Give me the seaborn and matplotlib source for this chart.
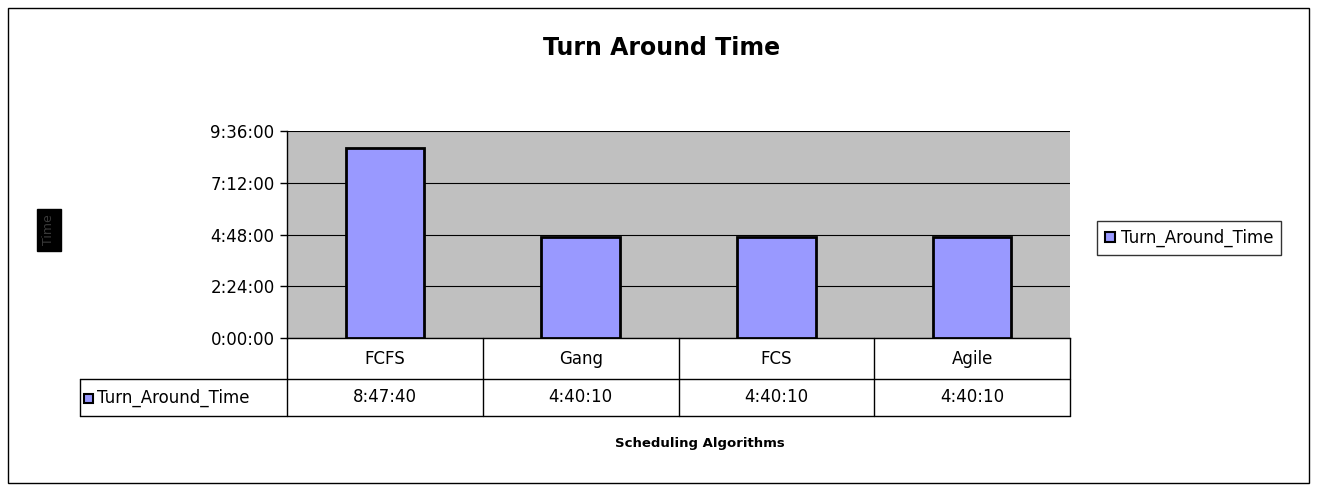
import matplotlib
matplotlib.use("Agg")
import matplotlib.pyplot as plt
import matplotlib.transforms as mtransforms
from matplotlib.patches import Rectangle
from matplotlib.ticker import FuncFormatter, FixedLocator
import seaborn as sns
import pandas as pd

# data (turn around time in seconds)
algorithms = ["FCFS", "Gang", "FCS", "Agile"]
tat_labels = ["8:47:40", "4:40:10", "4:40:10", "4:40:10"]
tat_seconds = [8 * 3600 + 47 * 60 + 40, 4 * 3600 + 40 * 60 + 10,
               4 * 3600 + 40 * 60 + 10, 4 * 3600 + 40 * 60 + 10]
series_name = "Turn_Around_Time"
y_ticks = [0, 8640, 17280, 25920, 34560]

df = pd.DataFrame({"Algorithm": algorithms, "Seconds": tat_seconds})

sns.set_style("white")
plt.rcParams["font.family"] = ["DejaVu Sans"]
plt.rcParams["text.color"] = "black"
plt.rcParams["ytick.color"] = "black"
plt.rcParams["ytick.labelcolor"] = "black"

W, H = 1317, 491
fig = plt.figure(figsize=(W / 100, H / 100), dpi=100)

def fx(px):
    return px / W

def fy(py):
    return (H - py) / H

bar_color = "#9999FF"
ax = fig.add_axes([fx(287), fy(338), fx(1070) - fx(287), fy(131) - fy(338)])
ax.set_facecolor("#C0C0C0")
sns.barplot(data=df, x="Algorithm", y="Seconds", color=bar_color, width=0.4,
            edgecolor="black", linewidth=2, saturation=1, ax=ax, zorder=3)

ax.set_xlim(-0.5, len(algorithms) - 0.5)
ax.set_ylim(0, y_ticks[-1])
ax.yaxis.set_major_locator(FixedLocator(y_ticks))

def hms(v, pos=None):
    v = int(round(v))
    return f"{v // 3600}:{(v % 3600) // 60:02d}:{v % 60:02d}"

ax.yaxis.set_major_formatter(FuncFormatter(hms))
ax.grid(axis="y", color="black", linewidth=0.8, zorder=1)
ax.set_axisbelow(True)
ax.tick_params(axis="y", left=True, length=5, width=1, color="black",
               labelsize=12, pad=4, labelcolor="black")
ax.set_xticks([])
ax.set_xlabel("")
ax.set_ylabel("")
for side in ["top", "right"]:
    ax.spines[side].set_visible(False)
for side in ["left", "bottom"]:
    ax.spines[side].set_color("black")
    ax.spines[side].set_linewidth(1)

# data table under the plot
trans = mtransforms.blended_transform_factory(ax.transData, fig.transFigure)
row1_top, row1_bot, row2_bot = fy(338), fy(379), fy(416)
line_kw = dict(color="black", linewidth=1, clip_on=False)
bounds = [i - 0.5 for i in range(len(algorithms) + 1)]
for b in bounds:
    ax.plot([b, b], [row1_top, row2_bot], transform=trans, **line_kw)
fig.add_artist(plt.Line2D([fx(80), fx(1070)], [row1_bot, row1_bot], **line_kw))
fig.add_artist(plt.Line2D([fx(80), fx(1070)], [row2_bot, row2_bot], **line_kw))
fig.add_artist(plt.Line2D([fx(80), fx(80)], [row1_bot, row2_bot], **line_kw))

for i, (cat, lab) in enumerate(zip(algorithms, tat_labels)):
    ax.text(i, (row1_top + row1_bot) / 2, cat, transform=trans,
            ha="center", va="center", fontsize=12)
    ax.text(i, (row1_bot + row2_bot) / 2, lab, transform=trans,
            ha="center", va="center", fontsize=12)

fig.add_artist(Rectangle((fx(84), fy(403)), fx(9), fy(394) - fy(403),
                         facecolor=bar_color, edgecolor="black", linewidth=1.5,
                         transform=fig.transFigure))
fig.text(fx(97), (row1_bot + row2_bot) / 2, series_name, ha="left",
         va="center", fontsize=12)

# titles
fig.text(fx(662), fy(48), "Turn Around Time", ha="center", va="center",
         fontsize=17, fontweight="bold")
fig.text(fx(700), fy(444), "Scheduling Algorithms", ha="center", va="center",
         fontsize=9.5, fontweight="bold")
fig.text(fx(49), fy(230), "Time", ha="center", va="center", rotation=90,
         fontsize=9, color="#3a3a3a",
         bbox=dict(facecolor="black", edgecolor="black", pad=4))

# legend on the right
handle = Rectangle((0, 0), 1, 1, facecolor=bar_color, edgecolor="black",
                   linewidth=1.5)
fig.legend([handle], [series_name], loc="center left",
           bbox_to_anchor=(fx(1097), fy(238)), fontsize=12, frameon=True,
           fancybox=False, edgecolor="black", handlelength=0.6,
           handleheight=0.6, handletextpad=0.4, borderpad=0.45,
           borderaxespad=0)
leg = fig.legends[0]
leg.get_frame().set_linewidth(1)

# outer chart border
fig.add_artist(Rectangle((fx(8), fy(483)), fx(1309) - fx(8), fy(8) - fy(483),
                         fill=False, edgecolor="black", linewidth=1,
                         transform=fig.transFigure))

fig.savefig("out.png", dpi=100, facecolor="white")
